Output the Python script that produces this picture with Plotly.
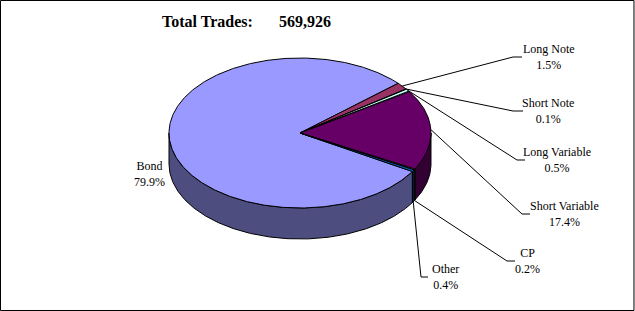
import numpy as np
import plotly.graph_objects as go

# ---- data ----
categories = ["Bond", "Long Note", "Short Note", "Long Variable", "Short Variable", "CP", "Other"]
percents = [79.9, 1.5, 0.1, 0.5, 17.4, 0.2, 0.4]
pct_labels = ["79.9%", "1.5%", "0.1%", "0.5%", "17.4%", "0.2%", "0.4%"]
total_trades = "569,926"

# ---- styling / layout ----
top_colors = ["#9999FF", "#993366", "#FFFFCC", "#CCFFFF", "#660066", "#FF8080", "#0066CC"]
side_colors = ["#4D4D80", "#4D1A33", "#808066", "#668080", "#330033", "#804040", "#003366"]
W, H = 635, 311
cx, cy, rx, ry, depth = 300, 133, 131, 75, 31
start_deg = -30.9  # first slice starts here (math degrees), goes clockwise

# label placement: (text center x, text center y, elbow x, elbow end x, elbow y)
label_pos = {
    "Long Note": (549, 57, 513, 522, 57),
    "Short Note": (548, 111, 513, 523, 111),
    "Long Variable": (557, 160, 517, 525, 160),
    "Short Variable": (564, 214, 522, 530, 214),
    "CP": (527, 261, 507, 515, 261),
    "Other": (445, 277, 421, 428, 277),
}
bond_pos = (149, 174)

total = sum(percents)
spans = [p / total * 360.0 for p in percents]

def pt(a_deg, dy=0.0):
    a = np.radians(a_deg)
    return cx + rx * np.cos(a), cy - ry * np.sin(a) + dy

fig = go.Figure()

# compute slice angle ranges (clockwise => decreasing math angle)
ranges = []
a = start_deg + 360
for s in spans:
    ranges.append((a, a - s))
    a -= s

# side walls (visible where angle in (180, 360))
for i, (a1, a2) in enumerate(ranges):
    # normalise to [0,360)
    hi = a1 % 360
    lo = hi - (a1 - a2)
    segs = []
    for base in (0, 360, -360):
        s_lo = max(lo, 180 + base)
        s_hi = min(hi, 360 + base)
        if s_hi > s_lo:
            segs.append((s_lo, s_hi))
    for s_lo, s_hi in segs:
        n = max(2, int((s_hi - s_lo) * 2))
        angs = np.linspace(s_hi, s_lo, n)
        xt, yt = pt(angs)
        xb, yb = pt(angs[::-1], depth)
        xs = np.concatenate([xt, xb, xt[:1]])
        ys = np.concatenate([yt, yb, yt[:1]])
        fig.add_trace(go.Scatter(x=xs, y=ys, mode="lines", fill="toself",
                                 fillcolor=side_colors[i],
                                 line=dict(color="black", width=1),
                                 hoverinfo="skip", showlegend=False))

# top slices
for i, (a1, a2) in enumerate(ranges):
    n = max(2, int((a1 - a2) * 2))
    angs = np.linspace(a1, a2, n)
    xa, ya = pt(angs)
    xs = np.concatenate([[cx], xa, [cx]])
    ys = np.concatenate([[cy], ya, [cy]])
    fig.add_trace(go.Scatter(x=xs, y=ys, mode="lines", fill="toself",
                             fillcolor=top_colors[i],
                             line=dict(color="black", width=1),
                             hoverinfo="skip", showlegend=False,
                             name=categories[i]))

# leader lines and labels
annotations = []
for i, cat in enumerate(categories):
    a1, a2 = ranges[i]
    mid = (a1 + a2) / 2
    if cat == "Bond":
        annotations.append(dict(x=bond_pos[0], y=bond_pos[1], text=f"{cat}<br>{pct_labels[i]}",
                                showarrow=False, xanchor="center", yanchor="middle"))
        continue
    tx, ty, ex, ex2, ey = label_pos[cat]
    if np.sin(np.radians(mid)) < -0.3:
        ax, ay = pt(mid, depth)
    else:
        ax, ay = pt(mid)
    fig.add_trace(go.Scatter(x=[ax, ex, ex2], y=[ay, ey, ey], mode="lines",
                             line=dict(color="black", width=1),
                             hoverinfo="skip", showlegend=False))
    annotations.append(dict(x=tx, y=ty, text=f"{cat}<br>{pct_labels[i]}",
                            showarrow=False, xanchor="center", yanchor="middle"))

for a in annotations:
    a.update(xref="x", yref="y", align="center",
             font=dict(family="Liberation Serif", size=12, color="black"))

annotations.append(dict(x=207, y=21, xref="x", yref="y", text="<b>Total Trades:</b>",
                        showarrow=False, xanchor="center", yanchor="middle",
                        font=dict(family="Liberation Serif", size=16, color="black")))
annotations.append(dict(x=305, y=21, xref="x", yref="y", text=f"<b>{total_trades}</b>",
                        showarrow=False, xanchor="center", yanchor="middle",
                        font=dict(family="Liberation Serif", size=16, color="black")))

fig.update_layout(
    width=W, height=H,
    margin=dict(l=0, r=0, t=0, b=0),
    paper_bgcolor="white", plot_bgcolor="white",
    xaxis=dict(range=[0, W], visible=False, fixedrange=True),
    yaxis=dict(range=[H, 0], visible=False, fixedrange=True),
    annotations=annotations,
    shapes=[dict(type="rect", xref="paper", yref="paper", x0=0.0008, y0=0.0016, x1=0.9984, y1=0.9984,
                 line=dict(color="black", width=1))],
    showlegend=False,
)

fig.write_html("out.html")
